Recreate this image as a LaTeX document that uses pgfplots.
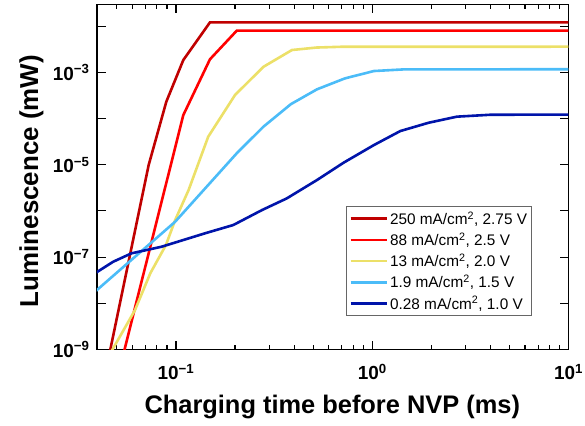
\documentclass[border=0pt]{standalone}
\usepackage{pgfplots}
\pgfplotsset{compat=1.18}
\usepackage{fontspec}
\setmainfont{Liberation Sans}

\definecolor{cA}{RGB}{192,0,0}     % 250 mA/cm2
\definecolor{cB}{RGB}{255,0,0}     % 88 mA/cm2
\definecolor{cC}{RGB}{236,224,104} % 13 mA/cm2
\definecolor{cD}{RGB}{75,188,248}  % 1.9 mA/cm2
\definecolor{cE}{RGB}{0,20,170}    % 0.28 mA/cm2

\begin{document}
\begin{tikzpicture}
\begin{axis}[
  scale only axis,
  width=471.5bp, height=345bp,
  xmode=log, ymode=log,
  xmin=0.0396, xmax=10,
  ymin=1e-9, ymax=0.0295,
  axis line style={line width=1.2bp},
  every tick/.style={black, line width=1.1bp},
  major tick length=9bp,
  minor tick length=5bp,
  tick align=inside,
  xtick={0.1,1,10},
  xticklabels={{10\textsuperscript{−1}},{10\textsuperscript{0}},{10\textsuperscript{1}}},
  minor xtick={0.05,0.06,0.07,0.08,0.09,0.2,0.3,0.4,0.5,0.6,0.7,0.8,0.9,2,3,4,5,6,7,8,9},
  ytick={1e-9,1e-8,1e-7,1e-6,1e-5,1e-4,1e-3,1e-2},
  yticklabels={{10\textsuperscript{−9}},,{10\textsuperscript{−7}},,{10\textsuperscript{−5}},,{10\textsuperscript{−3}},},
  yminorticks=false,
  tick label style={font=\fontsize{19}{22}\selectfont\bfseries},
  xticklabel style={yshift=-11bp},
  yticklabel style={xshift=-4bp},
  xlabel={Charging time before NVP (ms)},
  ylabel={Luminescence (mW)},
  xlabel style={font=\fontsize{25.5}{30}\selectfont\bfseries, at={(axis description cs:0.499,-0.1855)}, anchor=base},
  ylabel style={font=\fontsize{26}{30}\selectfont\bfseries, at={(axis description cs:-0.1246,0.488)}, anchor=base},
  legend style={at={(axis description cs:0.529,0.097)}, anchor=south west,
    draw=black!60, line width=0.8bp, fill=white,
    font=\fontsize{15.4}{18}\selectfont,
    inner xsep=2.5bp, inner ysep=3.5bp, row sep=4bp,
    nodes={inner sep=1.5bp}},
  legend cell align=left,
  legend image post style={line width=2.6bp},
  legend image code/.code={\draw[#1] (0bp,0bp) -- (36.7bp,0bp);},
  every axis plot/.append style={line width=2.6bp},
]

% 250 mA/cm^2, 2.75 V
\addplot[cA] coordinates {
  (0.0440,3.7e-10) (0.0463,1e-9) (0.0726,9.86e-6) (0.0893,2.32e-4)
  (0.109,1.85e-3) (0.149,1.21e-2) (10,1.21e-2)
};
\addlegendentry{250 mA/cm\textsuperscript{2}, 2.75 V}

% 88 mA/cm^2, 2.5 V
\addplot[cB] coordinates {
  (0.052,4.3e-10) (0.0547,1e-9) (0.109,1.19e-4) (0.149,1.92e-3)
  (0.204,8.0e-3) (10,8.0e-3)
};
\addlegendentry{88 mA/cm\textsuperscript{2}, 2.5 V}

% 13 mA/cm^2, 2.0 V
\addplot[cC] coordinates {
  (0.045,6.8e-10) (0.0475,1e-9) (0.0619,7.2e-9) (0.074,4.47e-8)
  (0.0889,1.83e-7) (0.0991,6.37e-7) (0.116,2.84e-6) (0.146,4.05e-5)
  (0.200,3.24e-4) (0.279,1.32e-3) (0.390,3.05e-3) (0.52,3.45e-3)
  (0.70,3.59e-3) (10,3.6e-3)
};
\addlegendentry{13 mA/cm\textsuperscript{2}, 2.0 V}

% 1.9 mA/cm^2, 1.5 V
\addplot[cD] coordinates {
  (0.038,1.67e-8) (0.0991,5.85e-7) (0.204,1.77e-5) (0.279,6.67e-5)
  (0.385,2.05e-4) (0.523,4.3e-4) (0.727,7.43e-4) (1.02,1.07e-3)
  (1.44,1.16e-3) (10,1.17e-3)
};
\addlegendentry{1.9 mA/cm\textsuperscript{2}, 1.5 V}

% 0.28 mA/cm^2, 1.0 V
\addplot[cE] coordinates {
  (0.0387,4.47e-8) (0.0479,7.96e-8) (0.0594,1.21e-7) (0.0845,1.68e-7)
  (0.1406,3.28e-7) (0.196,4.96e-7) (0.275,1.05e-6) (0.367,1.87e-6)
  (0.523,4.67e-6) (0.715,1.11e-5) (1.02,2.67e-5) (1.39,5.37e-5)
  (1.94,8.13e-5) (2.70,1.10e-4) (4.0,1.21e-4) (10,1.22e-4)
};
\addlegendentry{0.28 mA/cm\textsuperscript{2}, 1.0 V}

\end{axis}
\pgfresetboundingbox
\path[use as bounding box] (-97bp,-76.5bp) rectangle (488bp,349.5bp);
\end{tikzpicture}
\end{document}
